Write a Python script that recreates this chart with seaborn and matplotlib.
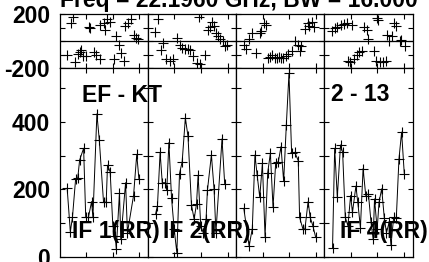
import matplotlib
matplotlib.use("Agg")
import matplotlib.pyplot as plt
import seaborn as sns

sns.set_style("ticks")
plt.rcParams['font.family'] = ['Liberation Sans', 'DejaVu Sans']
plt.rcParams['font.weight'] = 'bold'

title = "Freq = 22.1960 GHz, BW = 16.000"
baseline_label = "EF - KT"
scan_label = "2 - 13"
if_labels = ["IF 1(RR)", "IF 2(RR)", "", "IF 4(RR)"]

# amplitude (time in tick units, amplitude values)
t1a = [0.28,0.40,0.48,0.60,0.68,0.75,0.90,0.98,1.08,1.20,1.25,1.40,1.49,1.65,1.75,1.80,1.90,2.00,2.09,2.13,2.25,2.30,2.48,2.55,2.78,2.90,2.98]
a1 = [204,75,117,232,234,287,322,117,117,164,117,424,347,162,162,272,252,92,62,24,190,52,220,72,182,304,232]
t2a = [0.29,0.36,0.46,0.54,0.66,0.71,0.79,0.89,0.99,1.09,1.19,1.29,1.41,1.51,1.64,1.74,1.83,1.89,1.99,2.08,2.19,2.24,2.39,2.49,2.56,2.79,2.89]
a2 = [127,152,310,220,220,197,339,174,82,12,247,282,412,357,154,112,157,242,92,72,112,197,302,202,72,350,217]
t3a = [0.29,0.49,0.61,0.71,0.79,0.89,0.99,1.09,1.19,1.29,1.39,1.49,1.59,1.69,1.79,1.89,1.99,2.09,2.21,2.34,2.39,2.51,2.59,2.71,2.79,2.89,2.99]
a3 = [144,32,84,302,244,177,277,60,250,307,147,279,282,327,224,390,544,307,310,285,117,84,82,164,117,92,60]
t4a = [0.31,0.39,0.49,0.61,0.69,0.79,0.89,0.99,1.06,1.19,1.26,1.36,1.46,1.56,1.66,1.76,1.84,1.89,1.99,2.06,2.16,2.26,2.34,2.44,2.51,2.61,2.71,2.81,2.91,3.01]
a4 = [27,322,177,332,310,117,92,182,132,210,162,87,262,182,187,102,52,172,82,162,202,114,72,102,34,117,114,290,370,247]

# phase (degrees)
t1p = [0.27,0.42,0.50,0.59,0.68,0.75,0.80,0.88,1.00,1.10,1.15,1.28,1.38,1.50,1.53,1.65,1.71,1.78,1.88,2.03,2.13,2.22,2.30,2.41,2.47,2.56,2.68,2.78,2.88,2.93]
p1 = [-100,136,176,-157,-93,-83,-69,-113,-113,107,95,-83,-100,-137,119,136,83,161,144,-137,34,-27,-88,-149,112,136,161,46,22,15]
t2p = [0.26,0.39,0.49,0.57,0.70,0.83,0.93,1.08,1.20,1.30,1.39,1.50,1.58,1.70,1.83,1.93,1.95,2.14,2.27,2.33,2.40,2.48,2.56,2.65,2.71,2.81,2.90,2.96]
p2 = [63,163,-63,-14,-137,-149,-132,22,-27,-51,-59,-59,-63,-113,-161,176,-174,-100,83,107,142,111,58,34,14,-2,-34,-27]
t3p = [0.29,0.39,0.49,0.58,0.74,0.89,0.95,1.04,1.11,1.20,1.29,1.36,1.45,1.54,1.61,1.70,1.76,1.86,1.95,2.11,2.20,2.33,2.39,2.45,2.58,2.70,2.76,2.86,2.95]
p3 = [-27,-58,14,58,-87,58,77,130,118,-123,-116,-106,-123,-123,-116,-123,-123,-111,-99,-75,-2,-27,-75,-39,87,130,111,142,106]
t4p = [0.28,0.40,0.49,0.61,0.74,0.84,1.03,0.90,0.96,1.11,1.23,1.31,1.42,1.50,1.61,1.66,1.86,1.93,1.98,2.03,2.09,2.32,2.21,2.37,2.44,2.56,2.63,2.71,2.84,2.90,3.03]
p4 = [77,94,106,118,125,132,118,-149,-159,-135,-100,-82,-76,107,82,15,-76,-149,168,154,-159,-149,-154,46,-3,34,132,111,-3,5,-40]

amp_t = [t1a, t2a, t3a, t4a]
amp_v = [a1, a2, a3, a4]
ph_t = [t1p, t2p, t3p, t4p]
ph_v = [p1, p2, p3, p4]

W, H = 429, 262
fig = plt.figure(figsize=(W / 100, H / 100), dpi=100)
FS = 16.5

left0 = 59.7
pw = 88.2
top_p, mid, bot = 14.0, 68.0, 256.9

for i in range(4):
    x0 = (left0 + i * pw) / W
    axp = fig.add_axes([x0, (H - mid) / H, pw / W, (mid - top_p) / H])
    axa = fig.add_axes([x0, (H - bot) / H, pw / W, (bot - mid) / H])

    sns.scatterplot(x=ph_t[i], y=ph_v[i], ax=axp, marker='+', color='black',
                    s=42, linewidth=0.8, zorder=3)
    axp.axhline(0, color='black', lw=0.9, zorder=2)
    sns.lineplot(x=amp_t[i], y=amp_v[i], ax=axa, color='black', linewidth=0.7,
                 marker='+', markersize=6.5, markeredgewidth=0.8,
                 markeredgecolor='black', estimator=None, sort=False, zorder=3)

    for ax in (axp, axa):
        ax.set_xlim(0, 3.32)
        ax.set_xticks([1, 2, 3])
        ax.set_xticklabels([])
        ax.set_xlabel('')
        ax.set_ylabel('')
        ax.tick_params(direction='in', top=True, right=True, length=3.8,
                       width=0.8, pad=7, labelsize=FS, colors='black')
        for s in ax.spines.values():
            s.set_linewidth(0.9)
            s.set_color('black')
            s.set_visible(True)
        ax.set_facecolor('white')

    axp.set_ylim(-200, 200)
    axp.set_yticks([-200, -100, 0, 100, 200])
    axa.set_ylim(0, 560)
    axa.set_yticks([0, 100, 200, 300, 400, 500])
    if i == 0:
        axp.set_yticklabels(['-200', '', '', '', '200'], fontweight='bold')
        axa.set_yticklabels(['0', '', '200', '', '400', ''], fontweight='bold')
    else:
        axp.set_yticklabels([])
        axa.set_yticklabels([])

def ftext(x, y, s, **kw):
    fig.text(x / W, 1 - y / H, s, fontsize=FS, fontweight='bold',
             va='baseline', ha='left', color='black', zorder=10, **kw)

ftext(60, 6.5, title)
ftext(82, 101.7, baseline_label)
ftext(331, 100.7, scan_label)
if_x = [72, 163, 251, 340]
for lbl, x in zip(if_labels, if_x):
    if lbl:
        ftext(x, 238, lbl)

fig.savefig("out.png", dpi=100)
